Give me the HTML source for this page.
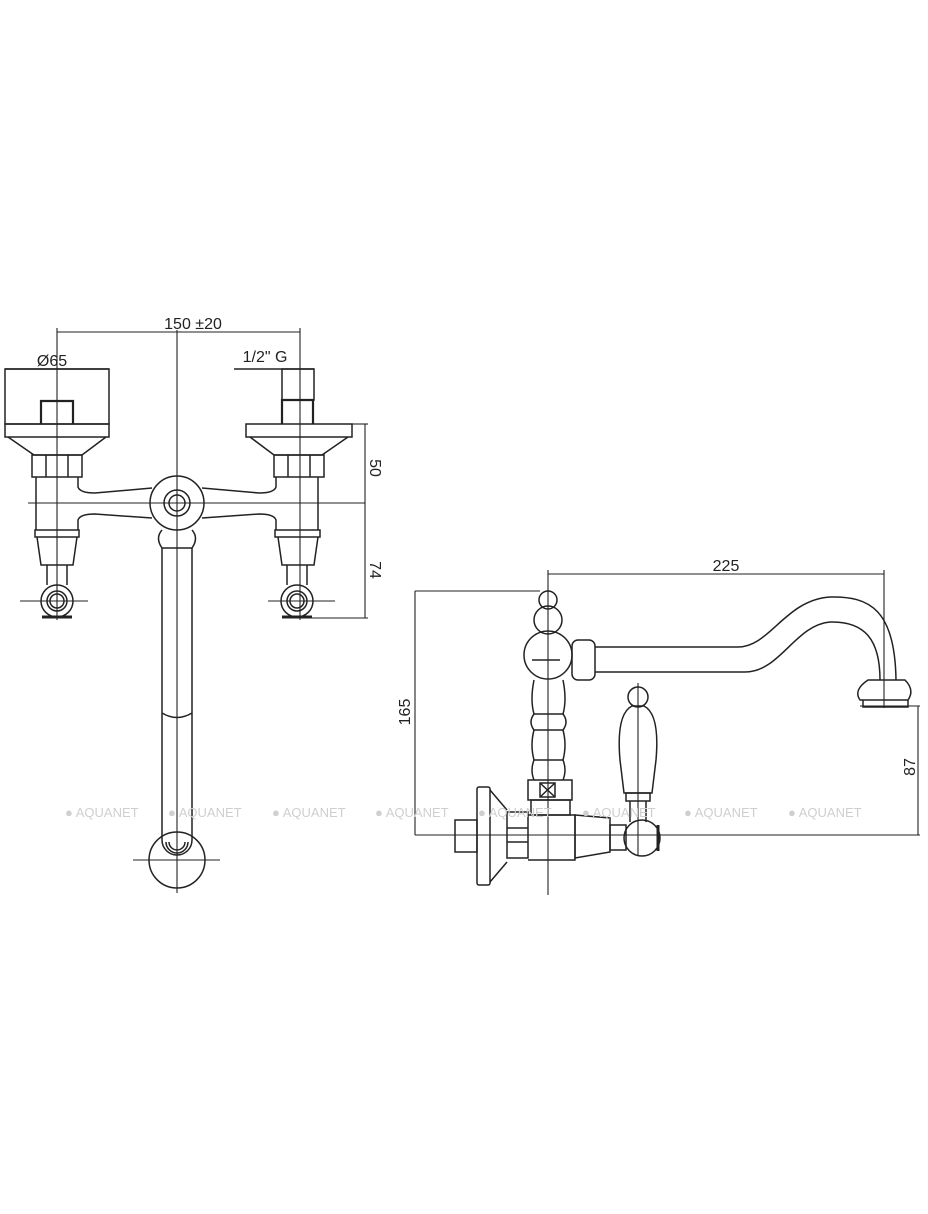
<!DOCTYPE html>
<html><head><style>
html,body{margin:0;padding:0;background:#fff;}
svg{display:block;}
text{font-family:"Liberation Sans",sans-serif;fill:#222;}
.wm text{fill:#cfcfcf;font-size:13px;}
</style></head><body>
<svg width="928" height="1214" viewBox="0 0 928 1214" xmlns="http://www.w3.org/2000/svg">
<g fill="none" stroke="#222" stroke-width="1.5">
<!-- LEFT VIEW -->
<line x1="57" y1="332" x2="300" y2="332" stroke-width="1.1"/>
<line x1="57" y1="328" x2="57" y2="620" stroke-width="1.1"/>
<line x1="300" y1="328" x2="300" y2="620" stroke-width="1.1"/>
<line x1="177" y1="330" x2="177" y2="893" stroke-width="1.1"/>
<line x1="5" y1="369" x2="109" y2="369"/>
<line x1="234" y1="369" x2="314" y2="369"/>
<line x1="28" y1="503" x2="365" y2="503" stroke-width="1.1"/>
<line x1="365" y1="424" x2="365" y2="618" stroke-width="1.1"/>
<line x1="352" y1="424" x2="368" y2="424" stroke-width="1.1"/>
<line x1="310" y1="618" x2="368" y2="618" stroke-width="1.1"/>
<rect x="5" y="369" width="104" height="55"/>
<path d="M41 424 V401 H73 V424" stroke-width="2.2"/>
<rect x="5" y="424" width="104" height="13"/>
<path d="M8 437 L34 455 H82 L106 437"/>
<path d="M32 455 H82 V477 H32 Z M46 455 V477 M68 455 V477"/>
<path d="M36 477 V530 M78 477 V487 Q80 493 95 493 L152 488 M78 530 V520 Q80 514 95 514 L152 518"/>
<path d="M35 530 H79 V537 H35 Z M37 537 L41 565 H73 L77 537"/>
<path d="M47 565 V585 M67 565 V585"/>
<circle cx="57" cy="601" r="16"/><circle cx="57" cy="601" r="10"/><circle cx="57" cy="601" r="7"/>
<path d="M42 617 H72" stroke-width="3"/>
<line x1="20" y1="601" x2="88" y2="601" stroke-width="1.1"/>
<rect x="282" y="369" width="32" height="31"/>
<path d="M282 424 V400 H313 V424" stroke-width="2.2"/>
<rect x="246" y="424" width="106" height="13"/>
<path d="M250 437 L274 455 H322 L348 437"/>
<path d="M274 455 H324 V477 H274 Z M288 455 V477 M310 455 V477"/>
<path d="M318 477 V530 M276 477 V487 Q274 493 259 493 L202 488 M276 530 V520 Q274 514 259 514 L202 518"/>
<path d="M275 530 H320 V537 H275 Z M278 537 L282 565 H314 L318 537"/>
<path d="M287 565 V585 M307 565 V585"/>
<circle cx="297" cy="601" r="16"/><circle cx="297" cy="601" r="10"/><circle cx="297" cy="601" r="7"/>
<path d="M282 617 H312" stroke-width="3"/>
<line x1="268" y1="601" x2="335" y2="601" stroke-width="1.1"/>
<circle cx="177" cy="503" r="27"/><circle cx="177" cy="503" r="13"/><circle cx="177" cy="503" r="8"/>
<path d="M162 530 Q155 538 162 548 H192 Q199 538 192 530"/>
<path d="M162 548 V840 M192 548 V840 M162 713 Q177 722 192 713"/>
<circle cx="177" cy="860" r="28"/>
<path d="M162 840 A15 15 0 0 0 192 840 M166 842 A11 11 0 0 0 188 842 M169 842 A8 8 0 0 0 185 842"/>
<line x1="133" y1="860" x2="220" y2="860" stroke-width="1.1"/>

<!-- RIGHT VIEW -->
<line x1="548" y1="574" x2="884" y2="574" stroke-width="1.1"/>
<line x1="548" y1="570" x2="548" y2="895" stroke-width="1.1"/>
<line x1="884" y1="570" x2="884" y2="708" stroke-width="1.1"/>
<line x1="415" y1="591" x2="415" y2="835" stroke-width="1.1"/>
<line x1="415" y1="591" x2="540" y2="591" stroke-width="1.1"/>
<line x1="415" y1="835" x2="920" y2="835" stroke-width="1.1"/>
<line x1="918" y1="706" x2="918" y2="835" stroke-width="1.1"/>
<line x1="860" y1="706" x2="920" y2="706" stroke-width="1.1"/>
<circle cx="548" cy="600" r="9"/>
<circle cx="548" cy="620" r="14"/>
<circle cx="548" cy="655" r="24"/>
<line x1="532" y1="660" x2="560" y2="660"/>
<rect x="572" y="640" width="23" height="40" rx="6"/>
<path d="M595 647 H738 C770 647 785 600 830 597 C870 596 895 610 896 680"/>
<path d="M595 672 H745 C780 672 795 625 830 622 C865 621 880 640 880 680"/>
<path d="M868 680 H905 Q915 690 908 700 H860 Q853 690 868 680 Z M863 700 H908 V707 H863 Z"/>
<path d="M534 680 Q530 700 534 714 Q528 722 534 730 Q530 745 534 760 Q530 770 534 780 M563 680 Q567 700 563 714 Q569 722 563 730 Q567 745 563 760 Q567 770 563 780"/>
<path d="M534 714 H563 M534 730 H563 M534 760 H563"/>
<rect x="528" y="780" width="44" height="20"/>
<rect x="540" y="783" width="15" height="14"/>
<path d="M540 783 L555 797 M555 783 L540 797"/>
<path d="M531 800 H570 V815 H531 Z"/>
<rect x="455" y="820" width="22" height="32"/>
<rect x="477" y="787" width="13" height="98" rx="2"/>
<path d="M490 790 L507 810 M490 882 L507 862"/>
<path d="M507 812 H528 V858 H507 Z M507 828 H528 M507 842 H528"/>
<path d="M528 815 H575 V860 H528"/>
<path d="M575 815 L610 818 V852 L575 858 Z"/>
<rect x="610" y="825" width="16" height="25"/>
<circle cx="642" cy="838" r="18"/>
<path d="M658 825 V851" stroke-width="3"/>
<line x1="638" y1="683" x2="638" y2="855" stroke-width="1.1"/>
<circle cx="638" cy="697" r="10"/>
<path d="M632 706 H644 Q660 714 656 760 L652 793 H624 L620 760 Q616 714 632 706 Z"/>
<rect x="626" y="793" width="24" height="8"/>
<path d="M630 801 V822 M646 801 V822"/>
</g>
<text x="193" y="329" font-size="16" text-anchor="middle">150 ±20</text>
<text x="52" y="366" font-size="16" text-anchor="middle">Ø65</text>
<text x="265" y="362" font-size="16" text-anchor="middle">1/2" G</text>
<text x="726" y="571" font-size="16" text-anchor="middle">225</text>
<text transform="translate(370,468) rotate(90)" font-size="16" text-anchor="middle">50</text>
<text transform="translate(370,570) rotate(90)" font-size="16" text-anchor="middle">74</text>
<text transform="translate(410,712) rotate(-90)" font-size="16" text-anchor="middle">165</text>
<text transform="translate(915,767) rotate(-90)" font-size="16" text-anchor="middle">87</text>
<g class="wm">
<text x="65" y="817">● AQUANET</text>
<text x="168" y="817">● AQUANET</text>
<text x="272" y="817">● AQUANET</text>
<text x="375" y="817">● AQUANET</text>
<text x="478" y="817">● AQUANET</text>
<text x="582" y="817">● AQUANET</text>
<text x="684" y="817">● AQUANET</text>
<text x="788" y="817">● AQUANET</text>
</g>
</svg>
</body></html>
